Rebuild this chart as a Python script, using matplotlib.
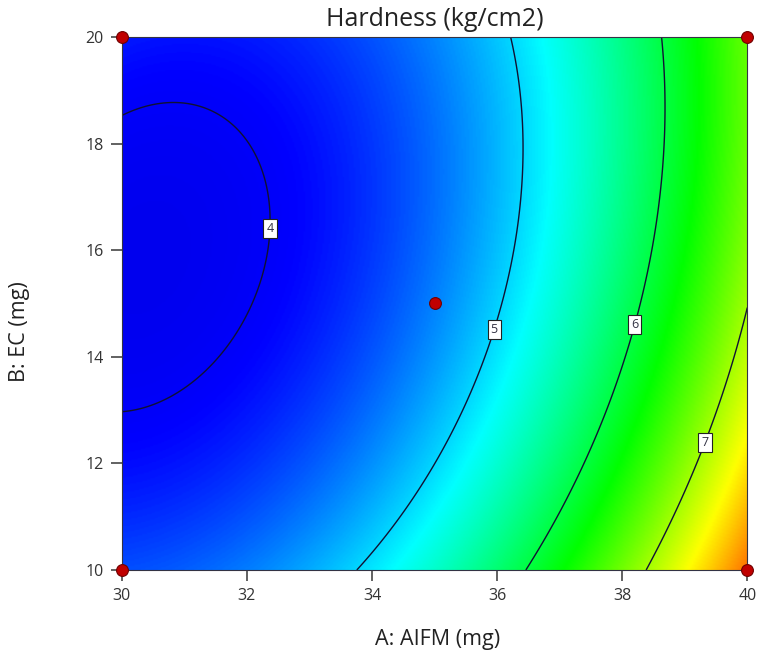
import numpy as np
import matplotlib
matplotlib.use("Agg")
import matplotlib.pyplot as plt
from matplotlib.colors import LinearSegmentedColormap

# ---- data ----
# Quadratic response-surface coefficients (coded units: x1=(A-35)/5, x2=(B-15)/5)
# order: intercept, A, B, AB, A^2, B^2
coef = [4.629, 1.551, -0.381, -0.264, 0.810, 0.391]
a_range = [30, 40]
b_range = [10, 20]
contour_levels = [4, 5, 6, 7]
label_pos = [(32.5, 16.4), (36.0, 14.5), (38.2, 14.6), (39.3, 12.4)]
design_A = [30, 30, 40, 40, 35]
design_B = [10, 20, 10, 20, 15]
x_ticks = [30, 32, 34, 36, 38, 40]
y_ticks = [10, 12, 14, 16, 18, 20]
# colour scale nodes (response value -> colour)
color_vals = [3.80, 4.05, 5.17, 6.29, 7.41, 8.53]
color_list = ["#0000e8", "#0000ff", "#00ffff", "#00ff00", "#ffff00", "#ff0000"]

plt.rcParams['font.family'] = ['Open Sans', 'DejaVu Sans']

fig = plt.figure(figsize=(7.61, 6.55), dpi=100)
ax = fig.add_axes([0.160, 0.1298, 0.822, 0.8137])

A = np.linspace(a_range[0], a_range[1], 400)
B = np.linspace(b_range[0], b_range[1], 400)
AA, BB = np.meshgrid(A, B)
X1 = (AA - 35) / 5
X2 = (BB - 15) / 5
Z = (coef[0] + coef[1]*X1 + coef[2]*X2 + coef[3]*X1*X2
     + coef[4]*X1**2 + coef[5]*X2**2)

vmin, vmax = color_vals[0], color_vals[-1]
nodes = [(v - vmin) / (vmax - vmin) for v in color_vals]
cmap = LinearSegmentedColormap.from_list("de", list(zip(nodes, color_list)))

ax.imshow(Z, extent=[a_range[0], a_range[1], b_range[0], b_range[1]],
          origin='lower', cmap=cmap, vmin=vmin, vmax=vmax,
          aspect='auto', interpolation='bilinear')
cs = ax.contour(AA, BB, Z, levels=contour_levels, colors='#111133',
                linewidths=1.0)
labels = ax.clabel(cs, fmt='%d', manual=label_pos, inline=False,
                   fontsize=9, colors='#333344')
for t in labels:
    t.set_rotation(0)
    t.set_zorder(6)
    t.set_bbox(dict(boxstyle='square,pad=0.25', fc='white', ec='#222222', lw=0.8))

ax.plot(design_A, design_B, 'o', ms=8.5, mfc='#c00000', mec='#700000',
        mew=0.8, clip_on=False, zorder=5)

ax.set_xlim(a_range)
ax.set_ylim(b_range)
ax.set_xticks(x_ticks)
ax.set_yticks(y_ticks)
ax.tick_params(direction='out', length=8, width=1.3, color='#555555',
               labelsize=11.5, labelcolor='#333333', pad=5)
for s in ax.spines.values():
    s.set_color('#333344')
    s.set_linewidth(0.8)

ax.set_xlabel("A: AIFM (mg)", fontsize=15.5, color='#222222')
ax.set_ylabel("B: EC (mg)", fontsize=15.5, color='#222222')
ax.xaxis.set_label_coords(0.505, -0.130)
ax.xaxis.label.set_va('center')
ax.yaxis.set_label_coords(-0.163, 0.447)
ax.yaxis.label.set_va('center')
ax.set_title("Hardness (kg/cm2)", fontsize=18, color='#222222', pad=8)

fig.savefig("out.png", dpi=100)
